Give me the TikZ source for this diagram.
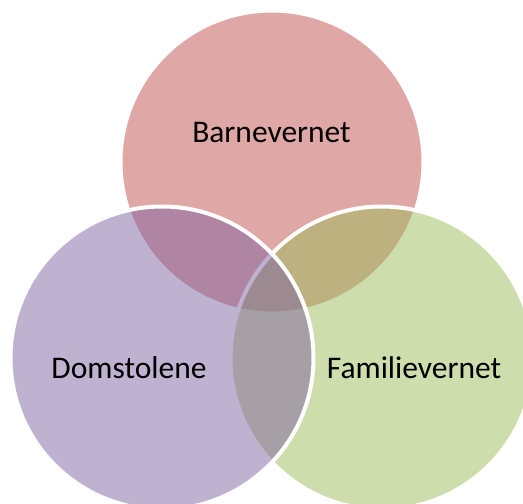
\documentclass[tikz,border=0pt]{standalone}
\usepackage{fontspec}
\setmainfont{Carlito}
\definecolor{barnred}{HTML}{C0504D}
\definecolor{famgreen}{HTML}{9BBB59}
\definecolor{dompurple}{HTML}{8064A2}
\begin{document}
\begin{tikzpicture}[x=1pt,y=-1pt,
  ring/.style={draw=white,line width=4pt,shape=circle,minimum size=303pt,inner sep=0pt,fill opacity=0.5,draw opacity=1},
  venntext/.style={anchor=base,inner sep=0pt,font=\fontsize{31.5}{38}\selectfont}]
\clip (0,0) rectangle (523,504);
\node [ring,fill=barnred,name=barn] at (272,162){};
\node [ring,fill=famgreen,name=fam] at (382,358){};
\node [ring,fill=dompurple,name=dom] at (162,358){};
\node [venntext,name=barntext] at (271.5,142){Barnevernet};
\node [venntext,name=domtext] at (129,378){Domstolene};
\node [venntext,name=famtext] at (414,378){Familievernet};
\end{tikzpicture}
\end{document}
